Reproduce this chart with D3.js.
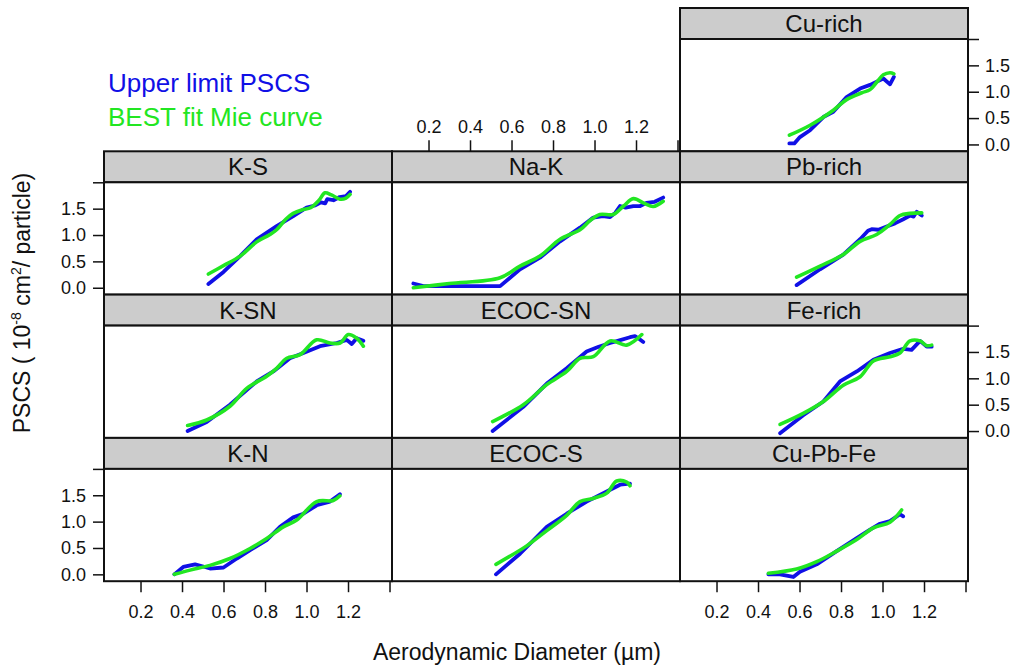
<!DOCTYPE html>
<html>
<head>
<meta charset="UTF-8">
<script src="https://d3js.org/d3.v7.min.js"></script>
<style>
  body { margin: 0; background: #fff; }
  text { font-family: "Liberation Sans", Arial, sans-serif; }
</style>
</head>
<body>
<svg width="1025" height="668"></svg>
<script>
// panel names, in reading order
var panelNames = ["Cu-rich", "K-S", "Na-K", "Pb-rich", "K-SN", "ECOC-SN", "Fe-rich", "K-N", "ECOC-S", "Cu-Pb-Fe"];
var panelCol = [2, 0, 1, 2, 0, 1, 2, 0, 1, 2];
var panelRow = [0, 1, 1, 1, 2, 2, 2, 3, 3, 3];

var xTicks = [0.2, 0.4, 0.6, 0.8, 1.0, 1.2, 1.4];
var yTicks = [0.0, 0.5, 1.0, 1.5, 2.0];

// [diameter um, PSCS]
var cuUpper = [[0.551,0.02],[0.575,0.02],[0.602,0.14],[0.651,0.27],[0.715,0.52],[0.763,0.62],[0.827,0.90],[0.892,1.06],[0.94,1.13],[1.004,1.25],[1.036,1.14],[1.055,1.28]];
var cuMie = [[0.551,0.175],[0.651,0.365],[0.763,0.65],[0.827,0.85],[0.90,0.98],[0.94,1.04],[0.972,1.18],[1.004,1.32],[1.036,1.36],[1.055,1.34]];

var ksUpper = [[0.527,0.07],[0.60,0.30],[0.68,0.60],[0.76,0.92],[0.856,1.17],[0.936,1.36],[1.0,1.52],[1.04,1.56],[1.07,1.62],[1.09,1.60],[1.10,1.68],[1.13,1.66],[1.16,1.72],[1.19,1.74],[1.21,1.82]];
var ksMie = [[0.527,0.26],[0.60,0.42],[0.68,0.60],[0.76,0.87],[0.82,1.0],[0.856,1.10],[0.90,1.30],[0.936,1.41],[0.98,1.48],[1.02,1.52],[1.06,1.66],[1.089,1.80],[1.12,1.76],[1.161,1.68],[1.19,1.70],[1.21,1.77]];

var nakUpper = [[0.127,0.08],[0.175,0.03],[0.545,0.03],[0.641,0.35],[0.737,0.57],[0.834,0.88],[0.93,1.14],[0.994,1.33],[1.04,1.36],[1.075,1.34],[1.10,1.42],[1.123,1.55],[1.15,1.52],[1.187,1.55],[1.22,1.55],[1.25,1.61],[1.29,1.63],[1.331,1.71]];
var nakMie = [[0.127,0.0],[0.30,0.08],[0.545,0.19],[0.641,0.41],[0.737,0.60],[0.834,0.92],[0.93,1.10],[0.98,1.28],[1.026,1.39],[1.09,1.39],[1.14,1.55],[1.187,1.69],[1.24,1.60],[1.283,1.54],[1.331,1.64]];

var pbUpper = [[0.586,0.05],[0.699,0.35],[0.811,0.63],[0.892,0.92],[0.93,1.08],[0.948,1.11],[0.98,1.10],[1.02,1.16],[1.06,1.22],[1.1,1.30],[1.133,1.37],[1.15,1.35],[1.165,1.44],[1.189,1.37]];
var pbMie = [[0.586,0.2],[0.699,0.41],[0.811,0.63],[0.892,0.88],[0.972,1.01],[1.036,1.2],[1.084,1.37],[1.133,1.41],[1.189,1.42]];

var ksnUpper = [[0.427,0.0],[0.519,0.17],[0.631,0.5],[0.76,0.94],[0.84,1.13],[0.92,1.38],[0.985,1.48],[1.065,1.61],[1.146,1.67],[1.194,1.73],[1.218,1.65],[1.242,1.76],[1.274,1.71]];
var ksnMie = [[0.427,0.105],[0.519,0.21],[0.631,0.47],[0.712,0.81],[0.808,1.04],[0.856,1.19],[0.905,1.38],[0.969,1.45],[1.049,1.73],[1.113,1.67],[1.162,1.67],[1.201,1.83],[1.242,1.76],[1.274,1.61]];

var ecsnUpper = [[0.509,0.0],[0.657,0.46],[0.77,0.9],[0.866,1.19],[0.962,1.51],[1.02,1.60],[1.075,1.67],[1.12,1.72],[1.171,1.78],[1.195,1.80],[1.211,1.76],[1.235,1.69]];
var ecsnMie = [[0.509,0.18],[0.657,0.5],[0.77,0.88],[0.866,1.13],[0.93,1.38],[0.994,1.41],[1.075,1.71],[1.155,1.63],[1.228,1.83]];

var feUpper = [[0.506,-0.04],[0.618,0.3],[0.715,0.56],[0.795,0.94],[0.876,1.13],[0.956,1.35],[1.036,1.48],[1.1,1.56],[1.14,1.54],[1.181,1.71],[1.213,1.6],[1.237,1.6]];
var feMie = [[0.506,0.125],[0.618,0.335],[0.715,0.56],[0.811,0.87],[0.892,1.03],[0.956,1.33],[1.036,1.41],[1.084,1.48],[1.133,1.71],[1.181,1.71],[1.213,1.62],[1.237,1.63]];

var knUpper = [[0.363,0.0],[0.406,0.14],[0.463,0.19],[0.511,0.14],[0.535,0.11],[0.6,0.13],[0.664,0.3],[0.728,0.46],[0.808,0.65],[0.872,0.9],[0.936,1.08],[0.985,1.15],[1.049,1.31],[1.113,1.38],[1.161,1.52]];
var knMie = [[0.363,0.0],[0.439,0.08],[0.535,0.17],[0.631,0.3],[0.728,0.49],[0.808,0.68],[0.888,0.9],[0.953,1.03],[1.049,1.38],[1.129,1.4],[1.161,1.49]];

var ecsUpper = [[0.525,0.0],[0.641,0.39],[0.77,0.9],[0.866,1.15],[0.962,1.38],[1.059,1.57],[1.123,1.7],[1.171,1.72]];
var ecsMie = [[0.525,0.19],[0.673,0.54],[0.77,0.83],[0.866,1.12],[0.93,1.38],[0.994,1.44],[1.059,1.54],[1.107,1.77],[1.155,1.75],[1.171,1.68]];

var cpfUpper = [[0.45,0.0],[0.506,0.0],[0.57,-0.05],[0.602,0.05],[0.683,0.19],[0.779,0.44],[0.876,0.69],[0.94,0.85],[0.988,0.96],[1.036,1.01],[1.084,1.14],[1.1,1.1]];
var cpfMie = [[0.45,0.02],[0.586,0.1],[0.683,0.24],[0.779,0.44],[0.876,0.66],[0.956,0.88],[1.036,0.99],[1.092,1.22]];

var upperSeries = [cuUpper, ksUpper, nakUpper, pbUpper, ksnUpper, ecsnUpper, feUpper, knUpper, ecsUpper, cpfUpper];
var mieSeries = [cuMie, ksMie, nakMie, pbMie, ksnMie, ecsnMie, feMie, knMie, ecsMie, cpfMie];

var blue = "#1010e6";
var green = "#22e622";

// layout
var colLeft = [104, 392, 680];
var colW = 288;
var rowTop = [8, 151.3, 294.6, 437.9];
var stripH = 31;
var plotH = 112.3;

var svg = d3.select("svg");

var x = d3.scaleLinear().domain([0.024, 1.412]).range([0, colW]);
var y = d3.scaleLinear().domain([-0.13, 2.0]).range([plotH, 0]);

var upperLine = d3.line().x(d => x(d[0])).y(d => y(d[1]));
var mieLine = d3.line().x(d => x(d[0])).y(d => y(d[1])).curve(d3.curveCatmullRom.alpha(0.5));

var fmt = d3.format(".1f");

panelNames.forEach(function (name, i) {
	var g = svg.append("g")
		.attr("transform", "translate(" + colLeft[panelCol[i]] + "," + rowTop[panelRow[i]] + ")");

	g.append("rect")
		.attr("width", colW).attr("height", stripH)
		.attr("fill", "#cccccc").attr("stroke", "#111").attr("stroke-width", 2);
	g.append("text")
		.attr("x", colW / 2).attr("y", stripH / 2 + 8.5)
		.attr("text-anchor", "middle")
		.attr("font-size", 24)
		.attr("fill", "#111")
		.text(name);

	var p = g.append("g").attr("transform", "translate(0," + stripH + ")");
	p.append("rect")
		.attr("width", colW).attr("height", plotH)
		.attr("fill", "#fff").attr("stroke", "#111").attr("stroke-width", 2);

	p.append("path")
		.datum(upperSeries[i])
		.attr("d", upperLine)
		.attr("fill", "none").attr("stroke", blue)
		.attr("stroke-width", 3.8).attr("stroke-linejoin", "round").attr("stroke-linecap", "round");
	p.append("path")
		.datum(mieSeries[i])
		.attr("d", mieLine)
		.attr("fill", "none").attr("stroke", green)
		.attr("stroke-width", 3.6).attr("stroke-linecap", "round");
});

function styleAxis(sel) {
	sel.select(".domain").remove();
	sel.selectAll(".tick line").attr("stroke", "#111").attr("stroke-width", 1.5);
	sel.selectAll(".tick text").attr("font-size", 18).attr("fill", "#111")
		.attr("font-family", "'Liberation Sans', Arial, sans-serif");
}

var yFmt = d => d === 2.0 ? "" : fmt(d);
var xFmt = d => d === 1.4 ? "" : fmt(d);

// y axes alternate: left on rows 2 and 4, right on rows 1 and 3
[1, 3].forEach(function (r) {
	svg.append("g")
		.attr("transform", "translate(" + colLeft[0] + "," + (rowTop[r] + stripH) + ")")
		.call(d3.axisLeft(y).tickValues(yTicks).tickFormat(yFmt).tickSize(11).tickPadding(7))
		.call(styleAxis);
});
[0, 2].forEach(function (r) {
	svg.append("g")
		.attr("transform", "translate(" + (colLeft[2] + colW) + "," + (rowTop[r] + stripH) + ")")
		.call(d3.axisRight(y).tickValues(yTicks).tickFormat(yFmt).tickSize(11).tickPadding(6))
		.call(styleAxis);
});

// x axes: bottom for columns 1 and 3, top for column 2
[0, 2].forEach(function (c) {
	svg.append("g")
		.attr("transform", "translate(" + colLeft[c] + "," + (rowTop[3] + stripH + plotH) + ")")
		.call(d3.axisBottom(x).tickValues(xTicks).tickFormat(xFmt).tickSize(11).tickPadding(13))
		.call(styleAxis);
});
svg.append("g")
	.attr("transform", "translate(" + colLeft[1] + "," + rowTop[1] + ")")
	.call(d3.axisTop(x).tickValues(xTicks).tickFormat(xFmt).tickSize(11).tickPadding(7))
	.call(styleAxis);

// axis titles
svg.append("text")
	.attr("x", 517).attr("y", 660)
	.attr("text-anchor", "middle")
	.attr("font-size", 23).attr("fill", "#111")
	.text("Aerodynamic Diameter (\u00b5m)");

var yt = svg.append("text")
	.attr("transform", "translate(30,303) rotate(-90)")
	.attr("text-anchor", "middle")
	.attr("font-size", 23).attr("fill", "#111");
yt.append("tspan").text("PSCS ( 10");
yt.append("tspan").attr("font-size", 14).attr("dy", -9).text("-8");
yt.append("tspan").attr("dy", 9).text(" cm");
yt.append("tspan").attr("font-size", 14).attr("dy", -9).text("2");
yt.append("tspan").attr("dy", 9).text("/ particle)");

// legend
svg.append("text")
	.attr("x", 108).attr("y", 92)
	.attr("font-size", 26).attr("fill", blue)
	.text("Upper limit PSCS");
svg.append("text")
	.attr("x", 108).attr("y", 126)
	.attr("font-size", 26).attr("fill", green)
	.text("BEST fit Mie curve");
</script>
</body>
</html>
